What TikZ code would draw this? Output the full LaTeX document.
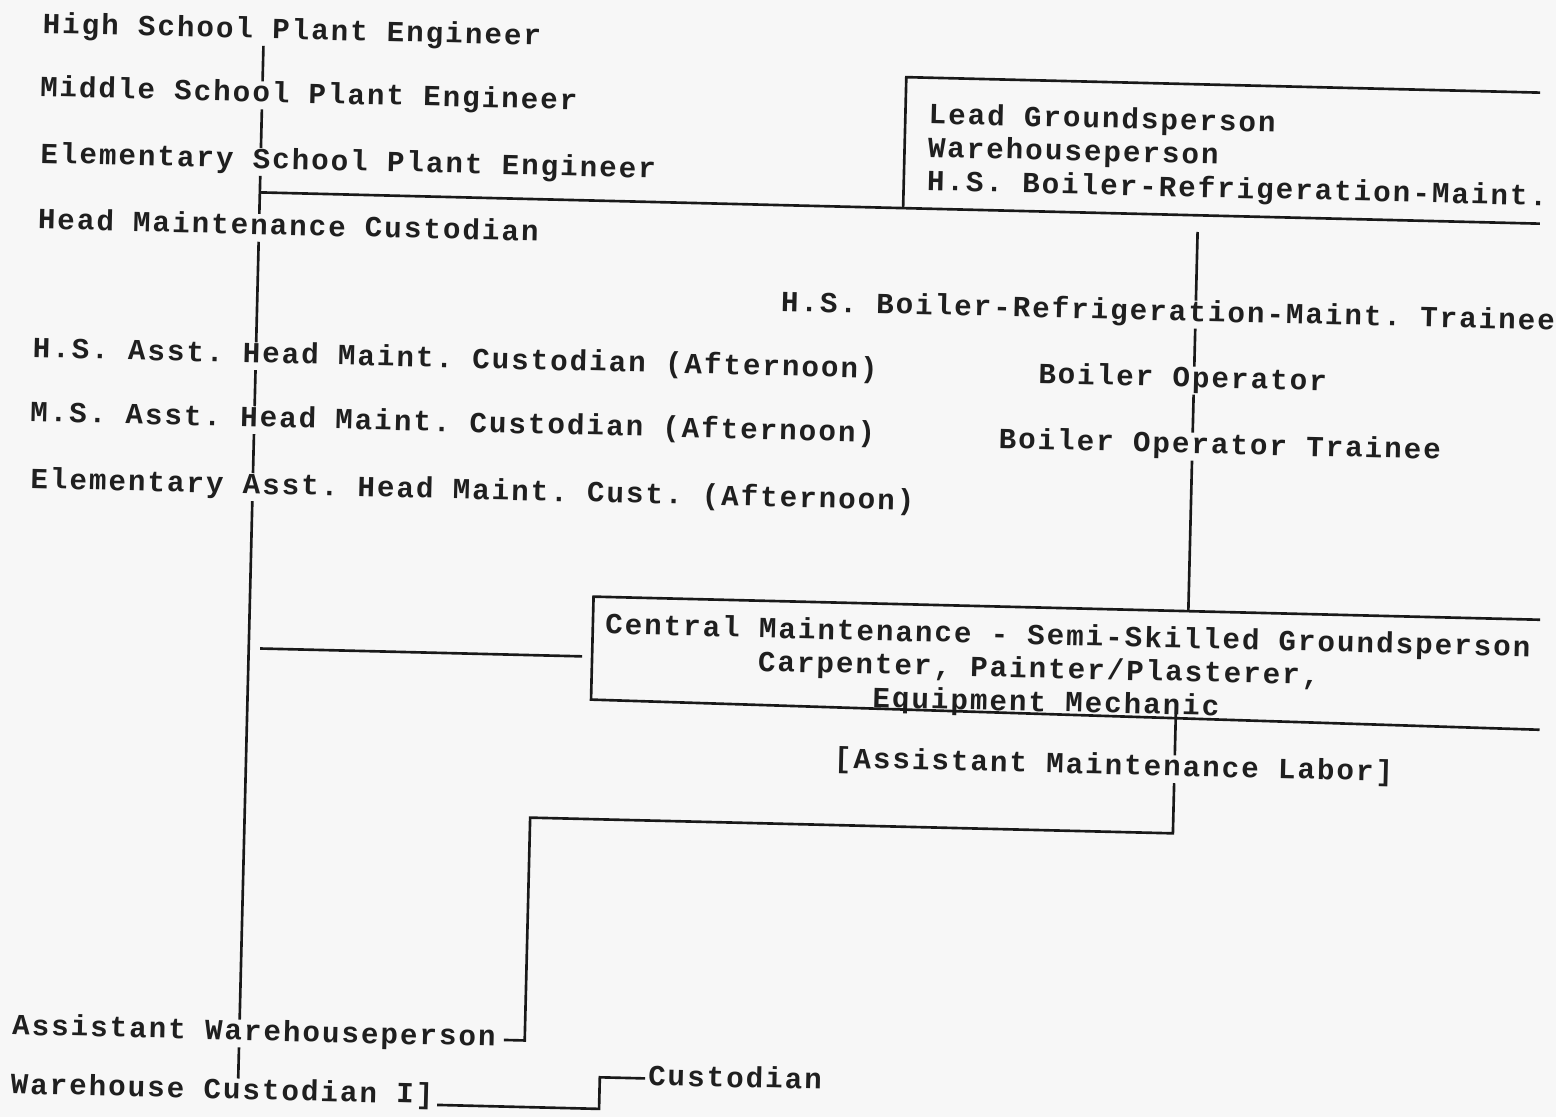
\documentclass[tikz,border=0pt]{standalone}
\usepackage{fontspec}
\setmonofont[LetterSpace=6.9]{Liberation Mono}

\begin{document}
\begin{tikzpicture}[
  x=0.02cm, y=-0.02cm,
  font={\ttfamily\bfseries\fontsize{16.6}{19}\selectfont\spaceskip 10.94pt\relax},
  text=black!88,
  lbl/.style={inner sep=0pt, anchor=base west, text height=11.5pt, text depth=4pt},
  blk/.style={inner sep=0pt, anchor=north west, align=left},
  ln/.style={line width=1.5pt, black!90}
]
\useasboundingbox (0,0) rectangle (1556,1117);
\fill[black!3] (0,0) rectangle (1556,1117);
\clip (0,0) rectangle (1556,1117);
\begin{scope}[rotate=-1.4, transform shape]
\coordinate (sp) at (264.5,0);
\coordinate (rv) at (1203,0);
\coordinate (lv) at (1193,0);
\node[lbl] (hspe) at (43,32) {High School Plant Engineer};
\node[lbl] (mspe) at (42,95.5) {Middle School Plant Engineer};
\node[lbl] (espe) at (44,162) {Elementary School Plant Engineer};
\node[lbl] (hmc) at (43,228) {Head Maintenance Custodian};
\node[lbl] (hsa) at (41,356.5) {H.S. Asst. Head Maint. Custodian (Afternoon)};
\node[lbl] (msa) at (40,420.5) {M.S. Asst. Head Maint. Custodian (Afternoon)};
\node[lbl] (ela) at (42,487.5) {Elementary Asst. Head Maint. Cust. (Afternoon)};
\node[lbl] (awp) at (37,1034) {Assistant Warehouseperson};
\node[lbl] (wci) at (37,1093) {Warehouse Custodian I]};
\node[lbl] (cust) at (674,1069) {Custodian};
\node[blk] (grp) at (931,79.5) {Lead Groundsperson\\Warehouseperson\\H.S. Boiler-Refrigeration-Maint.};
\node[lbl] (hstr) at (788,292) {H.S. Boiler-Refrigeration-Maint. Trainee};
\node[lbl] (bop) at (1047,358) {Boiler Operator};
\node[lbl] (bot) at (1009,424) {Boiler Operator Trainee};
\node[blk] (cmb) at (620,597.5) {Central Maintenance - Semi-Skilled Groundsperson\\
  \hspace*{87.5pt}Carpenter, Painter/Plasterer,\\
  \hspace*{153.2pt}Equipment Mechanic};
\node[lbl] (aml) at (852,747) {[Assistant Maintenance Labor]};
\coordinate (gtl) at (908,55);
\coordinate (gtr) at (1542,55);
\coordinate (gbl) at (908,186);
\coordinate (gbr) at (1545,186);
\coordinate (ctl) at (608,582);
\coordinate (ctr) at (1555,582);
\coordinate (cbl) at (608,685);
\coordinate (cbr) at (1557,692);
\coordinate (cm) at (608,642);
\coordinate (am) at (550,804.5);
\coordinate (wc) at (626,1094);
\draw[ln] (gtr) -- (gtl) -- (gbl);
\draw[ln] (ctr) -- (ctl) -- (cbl) -- (cbr);
\draw[ln] (hspe.south -| sp) -- (mspe.north -| sp);
\draw[ln] (mspe.south -| sp) -- (espe.north -| sp);
\draw[ln] (espe.south -| sp) -- (hmc.north -| sp);
\draw[ln] (hmc.south -| sp) -- (hsa.north -| sp);
\draw[ln] (hsa.south -| sp) -- (msa.north -| sp);
\draw[ln] (msa.south -| sp) -- (ela.north -| sp);
\draw[ln] (ela.south -| sp) -- (awp.north -| sp);
\draw[ln] (awp.south -| sp) -- (wci.north -| sp);
\draw[ln] (gbl -| sp) -- (gbr);
\draw[ln, shorten <=9.5pt] (gbl -| rv) -- (hstr.north -| rv);
\draw[ln] (hstr.south -| rv) -- (bop.north -| rv);
\draw[ln] (bop.south -| rv) -- (bot.north -| rv);
\draw[ln] (bot.south -| rv) -- (ctl -| rv);
\draw[ln, shorten <=6.5pt, shorten >=5.7pt] (cm -| sp) -- (cm);
\draw[ln] (cbl -| lv) -- (aml.north -| lv);
\draw[ln, shorten >=4.5pt] (aml.south -| lv) |- (am) |- (awp.east);
\draw[ln, shorten <=2pt, shorten >=1.5pt] (wci.east |- wc) -- (wc) |- (cust.west);
\end{scope}
\end{tikzpicture}
\end{document}
